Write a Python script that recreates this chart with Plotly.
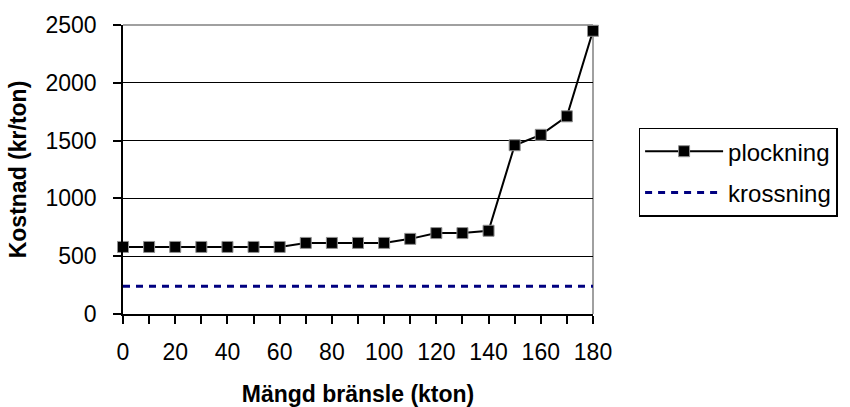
import plotly.graph_objects as go

x_vals = [0, 10, 20, 30, 40, 50, 60, 70, 80, 90, 100, 110, 120, 130, 140, 150, 160, 170, 180]
plockning = [580, 580, 580, 580, 580, 580, 580, 615, 615, 615, 615, 650, 700, 700, 720, 1460, 1550, 1710, 2450]
krossning = [240] * len(x_vals)
x_tickvals = list(range(0, 181, 10))
x_ticktext = [str(v) if v % 20 == 0 else "" for v in x_tickvals]
y_tickvals = [0, 500, 1000, 1500, 2000, 2500]

FAM = "Liberation Sans, Arial"

fig = go.Figure()
fig.add_trace(go.Scatter(
    x=x_vals, y=plockning, name="plockning", mode="lines+markers", legendgroup="a",
    line=dict(color="black", width=2),
    marker=dict(symbol="square", size=11, color="black", line=dict(color="#909090", width=1)),
    cliponaxis=False,
))
fig.add_trace(go.Scatter(
    x=x_vals, y=krossning, name="krossning", mode="lines", legendgroup="b",
    line=dict(color="#000080", width=3, dash="7px,6px"),
))

fig.update_layout(
    width=850, height=407,
    margin=dict(l=123, r=255, t=25, b=93),
    paper_bgcolor="white", plot_bgcolor="white",
    font=dict(family=FAM, size=23, color="black"),
    showlegend=True,
    legend=dict(x=1.097, y=0.645, xanchor="left", yanchor="top",
                bordercolor="black", borderwidth=1.5, bgcolor="white",
                itemwidth=78, font=dict(family=FAM, size=24, color="black"),
                tracegroupgap=7),
    xaxis=dict(range=[0, 180], tickvals=x_tickvals, ticktext=x_ticktext,
               showgrid=False, zeroline=False, showline=True, linecolor="black", linewidth=1.5,
               ticks="outside", ticklen=8, tickcolor="black", tickwidth=1.5,
               ticklabelstandoff=9, automargin=False,
               tickfont=dict(family=FAM, size=23, color="black"),
               title=dict(text="<b>Mängd bränsle (kton)</b>", standoff=24,
                          font=dict(family=FAM, size=23, color="black"))),
    yaxis=dict(range=[0, 2500], tickvals=y_tickvals,
               showgrid=True, gridcolor="black", gridwidth=1, zeroline=False,
               showline=True, linecolor="black", linewidth=1.5,
               ticks="outside", ticklen=8, tickcolor="black", tickwidth=1.5,
               ticklabelstandoff=12, automargin=False,
               tickfont=dict(family=FAM, size=23, color="black"),
               title=dict(text="<b>Kostnad (kr/ton)</b>", standoff=12,
                          font=dict(family=FAM, size=23, color="black"))),
    shapes=[
        dict(type="line", xref="paper", yref="paper", x0=0, x1=1, y0=1, y1=1,
             line=dict(color="#808080", width=1.5), layer="above"),
        dict(type="line", xref="paper", yref="paper", x0=1, x1=1, y0=0, y1=1,
             line=dict(color="#808080", width=1.5), layer="below"),
    ],
)

fig.write_html("out.html")
